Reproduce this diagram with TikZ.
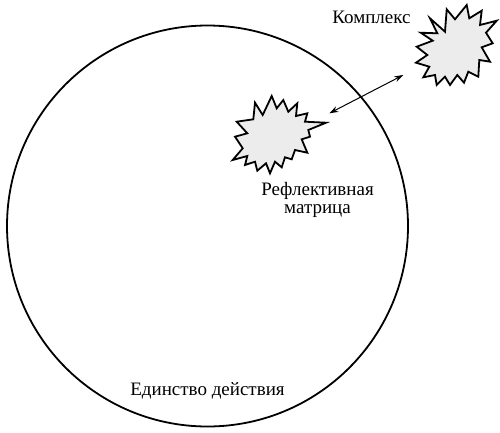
\documentclass[tikz,border=0pt]{standalone}
\usepackage{fontspec}
\setmainfont{Liberation Serif}
\usetikzlibrary{arrows.meta}
\begin{document}
\begin{tikzpicture}[x=1pt,y=-1pt,
  burst/.style={draw=black,fill=gray!15,line width=1.8pt,line join=miter},
  lbl/.style={font=\fontsize{19}{17.5}\selectfont,inner sep=0pt,align=center},
  link/.style={line width=1pt,{Stealth[length=9pt,width=6pt]}-{Stealth[length=9pt,width=6pt]}}]
\useasboundingbox (0,0) rectangle (500,432);
\draw[line width=1.8pt] (207.5,226) circle[radius=200.5];
% reflective matrix burst
\draw[burst] (255,102.7)--(262.7,115)--(271.7,96)--(276.7,108.3)--(283.3,100)--(288.3,111.7)--(297.3,103.3)--(296,116)--(307.3,113.3)--(305,121.7)--(326,122.7)--(308.3,130)--(310,136.7)--(301.7,139.3)--(307.3,152.7)--(295,150)--(291.7,159.3)--(285,157.3)--(281.7,167.3)--(275,161.7)--(270,173.3)--(266,163.3)--(257.3,170.7)--(255,161.7)--(245,165)--(247.3,156)--(232.7,160)--(242.7,148.3)--(235,136.7)--(247.3,133.3)--(236.7,121.7)--(253.3,119.3)--cycle;
% complex burst
\draw[burst] (430,18.3)--(445,31.7)--(446.7,9.3)--(455,19.3)--(466.7,5)--(469.3,18.3)--(481.7,10.7)--(480,25)--(496.7,20.7)--(486,32.7)--(492.7,43.3)--(481.7,47.3)--(490,61.7)--(479.3,60)--(478.3,76.7)--(468.3,71.7)--(464,82.7)--(457.3,75)--(450,85)--(445,76.7)--(436.7,85)--(435,75)--(423.3,77.3)--(429.3,66.7)--(416,62.7)--(427.3,55)--(416.7,46.7)--(432.7,40.7)--(420.7,32.7)--(437.3,33.3)--cycle;
\coordinate (matrixend) at (329.3,113.3);
\coordinate (complexend) at (403.3,75);
\draw[link] (matrixend) -- (complexend);
\node[lbl,anchor=base] (complex) at (371.5,23) {Комплекс};
\node[lbl,anchor=base] (matrix) at (317.5,213) {Рефлективная\\матрица};
\node[lbl,anchor=base] (unity) at (207.5,395) {Единство действия};
\end{tikzpicture}
\end{document}
